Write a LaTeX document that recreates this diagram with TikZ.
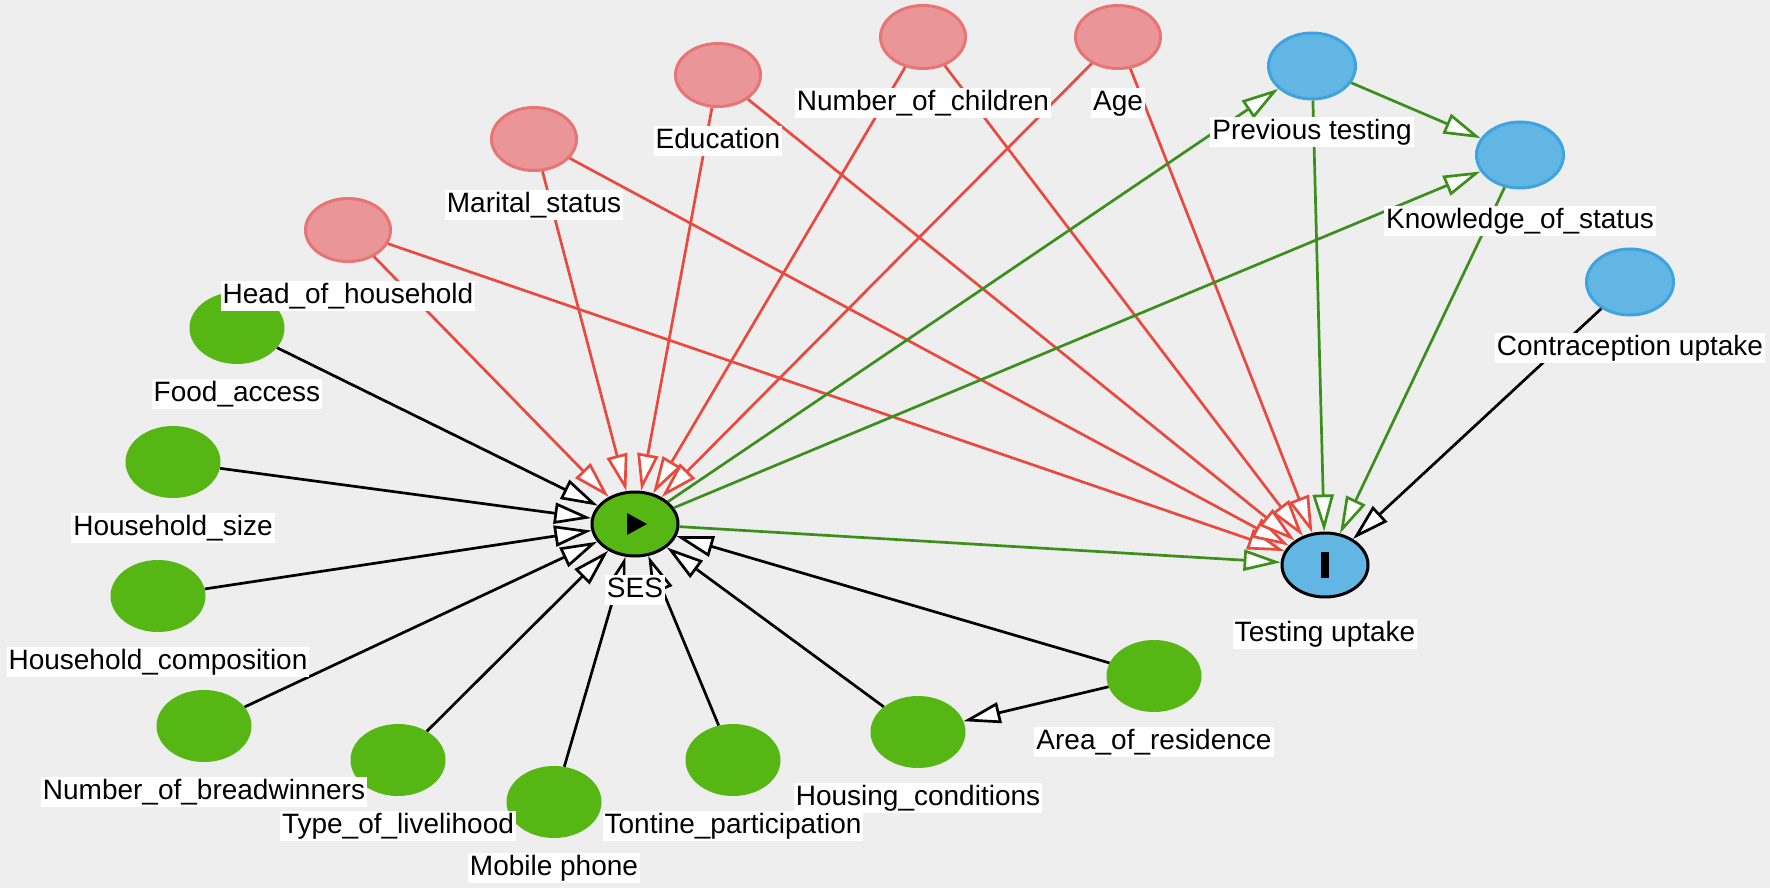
\documentclass[tikz,border=0pt]{standalone}
\usepackage{fontspec}
\setmainfont{Liberation Sans}
\usetikzlibrary{arrows.meta,positioning,shapes.geometric}
\definecolor{bggrey}{HTML}{EEEEEE}
\definecolor{pinkfill}{HTML}{EA9698}
\definecolor{pinkline}{HTML}{E87474}
\definecolor{bluefill}{HTML}{62B6E3}
\definecolor{blueline}{HTML}{3FA3E0}
\definecolor{greenfill}{HTML}{55B614}
\definecolor{redline}{HTML}{E84A40}
\definecolor{greenline}{HTML}{3C8F1C}
\begin{document}
\begin{tikzpicture}[x=1pt,y=-1pt,
    pinknode/.style={ellipse,draw=pinkline,fill=pinkfill,line width=3pt,
      minimum width=85pt,minimum height=63pt,inner sep=0pt},
    bluenode/.style={ellipse,draw=blueline,fill=bluefill,line width=3pt,
      minimum width=87pt,minimum height=66pt,inner sep=0pt},
    greennode/.style={ellipse,fill=greenfill,
      minimum width=95pt,minimum height=72pt,inner sep=0pt},
    mainnode/.style={ellipse,draw=black,line width=3pt,
      minimum width=86pt,minimum height=64pt,inner sep=0pt},
    lbl/.style={fill=white,inner sep=2pt,text height=20pt,text depth=6pt,
      font=\fontsize{28pt}{32pt}\selectfont},
    dagarrow/.style={line width=2.7pt,
      -{Triangle[length=37pt,width=21pt,fill=white]}}]
  \fill[bggrey] (0,0) rectangle (1770,888);
  \useasboundingbox (0,0) rectangle (1770,888);
  % nodes
  \draw
    (348,230) node[pinknode] (hoh){}
    (534,139) node[pinknode] (mar){}
    (718,75) node[pinknode] (edu){}
    (923,37) node[pinknode] (noc){}
    (1118,37) node[pinknode] (age){}
    (1312,66) node[bluenode] (prev){}
    (1520,155) node[bluenode] (know){}
    (1630,282) node[bluenode] (contra){}
    (635,524) node[mainnode,fill=greenfill] (ses){}
    (1325,565) node[mainnode,fill=bluefill] (test){}
    (237,328) node[greennode] (food){}
    (173,462) node[greennode] (hsize){}
    (158,596) node[greennode] (hcomp){}
    (204,726) node[greennode] (bread){}
    (398,760) node[greennode] (liveli){}
    (554,802) node[greennode] (mobile){}
    (733,760) node[greennode] (tontine){}
    (918,732) node[greennode] (housing){}
    (1154,676) node[greennode] (area){};
  \fill (ses.center) ++(-8,-11) -- ++(20,11) -- ++(-20,11) -- cycle;
  \fill (test.center) ++(-4,-13) rectangle ++(8,26);
  % edges
  \begin{scope}[dagarrow,redline]
    \draw (hoh) to (ses);
    \draw (hoh) to (test);
    \draw (mar) to (ses);
    \draw (mar) to (test);
    \draw (edu) to (ses);
    \draw (edu) to (test);
    \draw (noc) to (ses);
    \draw (noc) to (test);
    \draw (age) to (ses);
    \draw (age) to (test);
  \end{scope}
  \begin{scope}[dagarrow,greenline]
    \draw (ses) to (prev);
    \draw (ses) to (know);
    \draw (ses) to (test);
    \draw (prev) to (know);
    \draw (prev) to (test);
    \draw (know) to (test);
  \end{scope}
  \begin{scope}[dagarrow,black]
    \draw (contra) to (test);
    \draw (food) to (ses);
    \draw (hsize) to (ses);
    \draw (hcomp) to (ses);
    \draw (bread) to (ses);
    \draw (liveli) to (ses);
    \draw (mobile) to (ses);
    \draw (tontine) to (ses);
    \draw (housing) to (ses);
    \draw (area) to (ses);
    \draw (area) to (housing);
  \end{scope}
  % labels
  \node[lbl,below=51pt of hoh.center] (hoh-l) {Head\_of\_household};
  \node[lbl,below=51pt of mar.center] (mar-l) {Marital\_status};
  \node[lbl,below=51pt of edu.center] (edu-l) {Education};
  \node[lbl,below=51pt of noc.center] (noc-l) {Number\_of\_children};
  \node[lbl,below=51pt of age.center] (age-l) {Age};
  \node[lbl,below=51pt of prev.center] (prev-l) {Previous testing};
  \node[lbl,below=51pt of know.center] (know-l) {Knowledge\_of\_status};
  \node[lbl,below=51pt of contra.center] (contra-l) {Contraception uptake};
  \node[lbl,below=51pt of ses.center] (ses-l) {SES};
  \node[lbl,below=54pt of test.center] (test-l) {Testing uptake};
  \node[lbl,below=51pt of food.center] (food-l) {Food\_access};
  \node[lbl,below=51pt of hsize.center] (hsize-l) {Household\_size};
  \node[lbl,below=51pt of hcomp.center] (hcomp-l) {Household\_composition};
  \node[lbl,below=51pt of bread.center] (bread-l) {Number\_of\_breadwinners};
  \node[lbl,below=51pt of liveli.center] (liveli-l) {Type\_of\_livelihood};
  \node[lbl,below=51pt of mobile.center] (mobile-l) {Mobile phone};
  \node[lbl,below=51pt of tontine.center] (tontine-l) {Tontine\_participation};
  \node[lbl,below=51pt of housing.center] (housing-l) {Housing\_conditions};
  \node[lbl,below=51pt of area.center] (area-l) {Area\_of\_residence};
\end{tikzpicture}
\end{document}
